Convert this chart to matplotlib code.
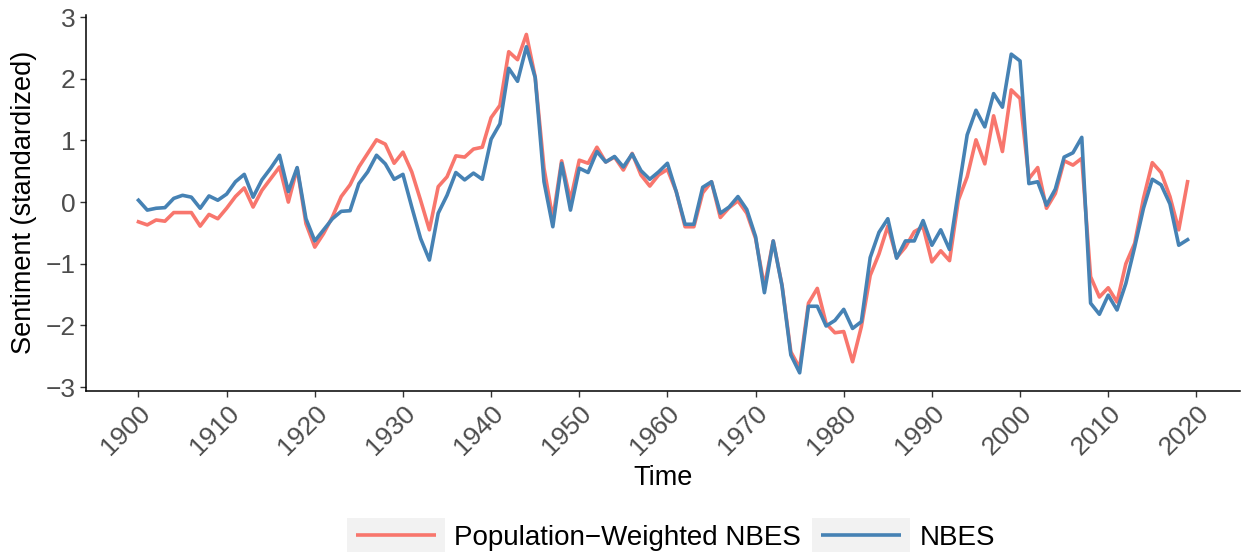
import matplotlib
matplotlib.use('Agg')
import matplotlib.pyplot as plt
import numpy as np
from matplotlib.legend_handler import HandlerBase
from matplotlib.lines import Line2D
from matplotlib.patches import Rectangle

# Datos (1900-2019)
years = np.arange(1900, 2020)

nbes_pop = [
    -0.32, -0.37, -0.29, -0.31, -0.17, -0.17, -0.17, -0.39, -0.20, -0.27,
    -0.10, 0.09, 0.23, -0.08, 0.19, 0.38, 0.57, 0.00, 0.55, -0.35,
    -0.73, -0.51, -0.24, 0.09, 0.28, 0.57, 0.79, 1.01, 0.94, 0.63,
    0.81, 0.49, 0.03, -0.45, 0.25, 0.41, 0.75, 0.73, 0.86, 0.89,
    1.37, 1.57, 2.44, 2.31, 2.72, 2.03, 0.55, -0.27, 0.67, 0.03,
    0.68, 0.63, 0.89, 0.65, 0.73, 0.52, 0.79, 0.44, 0.26, 0.44,
    0.53, 0.17, -0.40, -0.40, 0.15, 0.33, -0.25, -0.09, 0.02, -0.18,
    -0.59, -1.37, -0.63, -1.35, -2.43, -2.69, -1.64, -1.40, -1.97, -2.12,
    -2.10, -2.59, -2.02, -1.19, -0.84, -0.39, -0.90, -0.73, -0.48, -0.40,
    -0.97, -0.79, -0.95, 0.03, 0.41, 1.01, 0.62, 1.40, 0.82, 1.82,
    1.68, 0.38, 0.56, -0.10, 0.14, 0.67, 0.60, 0.71, -1.21, -1.54,
    -1.39, -1.62, -1.00, -0.67, 0.06, 0.64, 0.48, 0.09, -0.45, 0.33,
]

nbes = [
    0.03, -0.13, -0.10, -0.09, 0.06, 0.11, 0.08, -0.10, 0.10, 0.03,
    0.13, 0.33, 0.45, 0.08, 0.36, 0.55, 0.76, 0.17, 0.56, -0.27,
    -0.63, -0.45, -0.27, -0.15, -0.14, 0.30, 0.49, 0.76, 0.62, 0.37,
    0.45, -0.08, -0.59, -0.94, -0.18, 0.11, 0.48, 0.36, 0.47, 0.37,
    1.02, 1.27, 2.17, 1.96, 2.52, 2.02, 0.33, -0.40, 0.63, -0.13,
    0.55, 0.48, 0.82, 0.65, 0.74, 0.57, 0.78, 0.51, 0.37, 0.49,
    0.63, 0.17, -0.36, -0.36, 0.24, 0.33, -0.18, -0.08, 0.09, -0.12,
    -0.56, -1.47, -0.63, -1.36, -2.48, -2.77, -1.69, -1.69, -2.01, -1.92,
    -1.74, -2.05, -1.94, -0.90, -0.49, -0.27, -0.91, -0.63, -0.63, -0.30,
    -0.70, -0.45, -0.77, 0.17, 1.09, 1.49, 1.22, 1.76, 1.54, 2.40,
    2.29, 0.30, 0.33, -0.05, 0.21, 0.73, 0.80, 1.05, -1.64, -1.82,
    -1.51, -1.75, -1.32, -0.73, -0.10, 0.37, 0.28, -0.03, -0.70, -0.61,
]

x_ticks = np.arange(1900, 2021, 10)
y_ticks = np.arange(-3, 4)


class CajaGris(HandlerBase):
    # Clave de leyenda estilo ggplot: fondo gris con la linea encima
    def create_artists(self, legend, orig_handle, xdescent, ydescent,
                       width, height, fontsize, trans):
        fondo = Rectangle((-xdescent, -ydescent), width, height,
                          facecolor='#F2F2F2', edgecolor='none', transform=trans)
        y = -ydescent + height / 2
        linea = Line2D([-xdescent + 0.09 * width, -xdescent + 0.91 * width], [y, y],
                       color=orig_handle.get_color(), linewidth=orig_handle.get_linewidth(),
                       solid_capstyle='butt', transform=trans)
        return [fondo, linea]


plt.rcParams['font.family'] = ['Liberation Sans', 'DejaVu Sans']

fig = plt.figure(figsize=(12.43, 5.52), dpi=100)
ax = fig.add_axes([0.0692, 0.2922, 0.9284, 0.6806])

l1, = ax.plot(years, nbes_pop, color='#F8766D', linewidth=2.6, label='Population\u2212Weighted NBES')
l2, = ax.plot(years, nbes, color='#4682B4', linewidth=2.6, label='NBES')

ax.set_xlim(1894.05, 2024.95)
ax.set_ylim(-3.06, 3.035)
ax.set_xticks(x_ticks)
ax.set_yticks(y_ticks)
ax.set_yticklabels([str(v).replace('-', '\u2212') for v in y_ticks])
ax.set_xticklabels([str(v) for v in x_ticks], rotation=45, ha='right', va='top',
                   rotation_mode='anchor')

for lado in ['top', 'right']:
    ax.spines[lado].set_visible(False)
for lado in ['left', 'bottom']:
    ax.spines[lado].set_linewidth(1.1)
    ax.spines[lado].set_color('black')
ax.tick_params(axis='both', direction='out', length=4.5, width=1.0, color='#333333',
               labelcolor='#4D4D4D', labelsize=19, pad=3)

ax.set_xlabel('Time', fontsize=19.5, color='black', labelpad=4)
ax.set_ylabel('Sentiment (standardized)', fontsize=19.5, color='black', labelpad=6)

ax.legend(handles=[l1, l2], loc='center', bbox_to_anchor=(0.507, -0.385), ncol=2,
          frameon=False, fontsize=20, handler_map={Line2D: CajaGris()},
          handlelength=3.5, handleheight=1.5, handletextpad=0.35, columnspacing=0.4,
          borderpad=0)

fig.savefig('out.png', dpi=100, facecolor='white')
